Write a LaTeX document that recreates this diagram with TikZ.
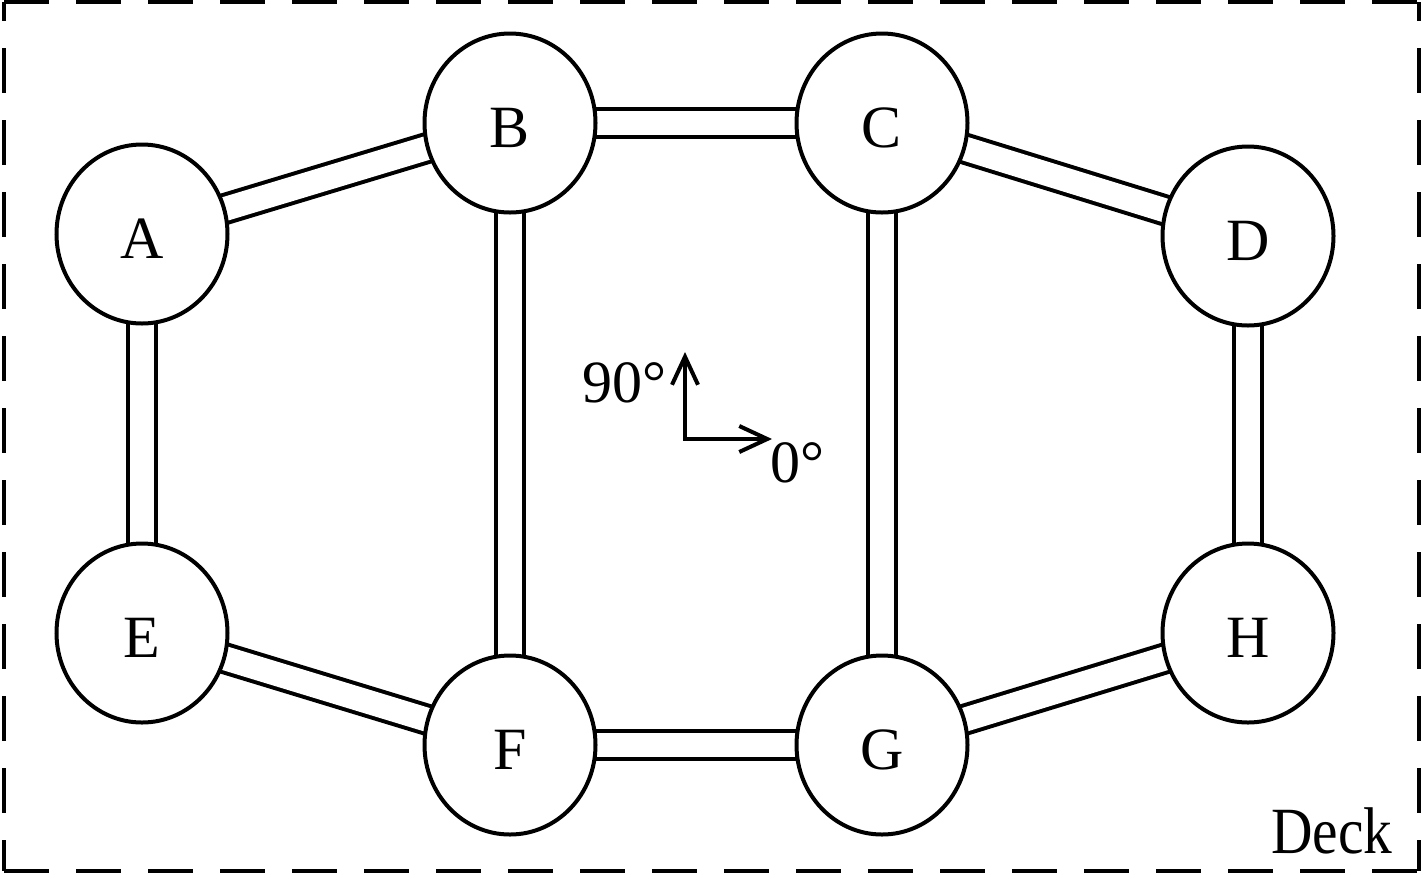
\documentclass[tikz,border=0pt]{standalone}
\usepackage{fontspec}
\setmainfont{Liberation Serif}
\usetikzlibrary{shapes.geometric,arrows.meta,backgrounds}
\begin{document}
\begin{tikzpicture}[x=0.5pt,y=-0.5pt,
  station/.style={ellipse,draw,line width=2pt,fill=white,minimum width=85.5pt,minimum height=89.5pt,inner sep=0pt,font=\fontsize{30}{36}\selectfont,text height=24pt,text depth=0pt},
  pipe/.style={draw=black,line width=2pt,double=white,double distance=12pt},
  deckline/.style={line width=2pt,dash pattern=on 22.5pt off 13.5pt},
  dirarrow/.style={line width=2pt,{Straight Barb[length=14pt,width=13pt]}-{Straight Barb[length=14pt,width=13pt]}},
  lbl/.style={inner sep=0pt,font=\fontsize{30}{36}\selectfont}]
\useasboundingbox (0,0) rectangle (1425,875);
% deck boundary
\draw[deckline] (4,2) -- (1419,2);
\draw[deckline,dash phase=13pt] (4,2) -- (4,871);
\draw[deckline] (4,871) -- (1419,871);
\draw[deckline,dash phase=13pt] (1419,2) -- (1419,871);
% stations
\node[station] (A) at (142,234) {A};
\node[station] (B) at (510,123) {B};
\node[station] (C) at (882,123) {C};
\node[station] (D) at (1248,236) {D};
\node[station] (E) at (142,633) {E};
\node[station] (F) at (510,745) {F};
\node[station] (G) at (882,745) {G};
\node[station] (H) at (1248,633) {H};
% pipes
\begin{pgfonlayer}{background}
\draw[pipe] (A.center) -- (B.center);
\draw[pipe] (B.center) -- (C.center);
\draw[pipe] (C.center) -- (D.center);
\draw[pipe] (A.center) -- (E.center);
\draw[pipe] (B.center) -- (F.center);
\draw[pipe] (C.center) -- (G.center);
\draw[pipe] (D.center) -- (H.center);
\draw[pipe] (E.center) -- (F.center);
\draw[pipe] (F.center) -- (G.center);
\draw[pipe] (G.center) -- (H.center);
\end{pgfonlayer}
% direction indicator
\coordinate (O) at (685,439);
\coordinate (N) at (685,352);
\coordinate (X) at (772,439);
\draw[dirarrow] (N) -- (O) -- (X);
\node[lbl,anchor=base east] (t90) at (667,402) {90°};
\node[lbl,anchor=base west] (t0) at (770,482) {0°};
\node[inner sep=0pt,anchor=base east,font=\fontsize{33}{40}\selectfont] (deck) at (1393,853) {\scalebox{0.87}[1]{Deck}};
\end{tikzpicture}
\end{document}
